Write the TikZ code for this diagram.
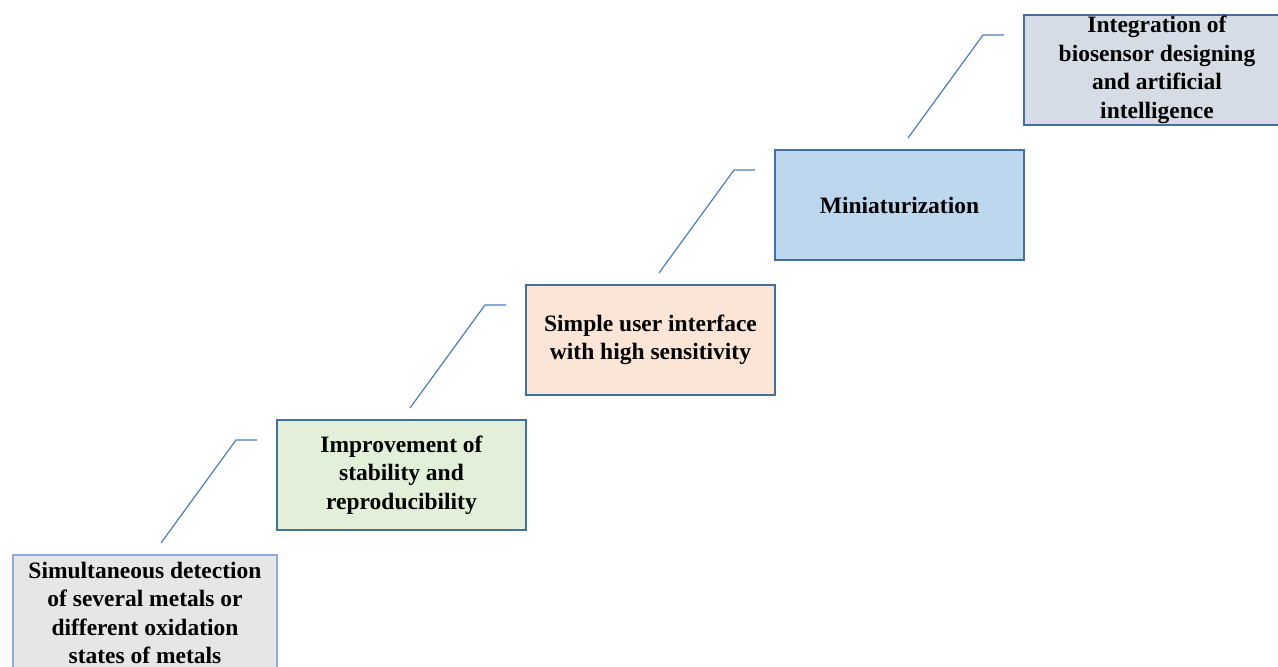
\documentclass[tikz,border=0pt]{standalone}
\usepackage{fontspec}
\setmainfont{Liberation Serif}
\usetikzlibrary{positioning}
\definecolor{boxline}{HTML}{41719C}
\definecolor{paleline}{HTML}{8FAADC}
\definecolor{leadline}{HTML}{4A7EBB}
\definecolor{fillgray}{HTML}{E7E6E6}
\definecolor{fillgreen}{HTML}{E2F0D9}
\definecolor{fillpeach}{HTML}{FBE5D6}
\definecolor{fillblue}{HTML}{BDD7EE}
\definecolor{fillslate}{HTML}{D6DCE5}
\tikzset{
  stagebox/.style={draw=boxline, line width=1.3pt, minimum width=249pt, minimum height=110pt,
    inner sep=0pt, outer sep=0pt, align=center, font=\bfseries\fontsize{23.5}{28.5}\selectfont},
  leader/.style={draw=leadline, line width=1.2pt},
}

\begin{document}
\begin{tikzpicture}[x=1pt, y=-1pt]
    \useasboundingbox (0,0) rectangle (1278,667);
    % the stairs, bottom left to top right
    \node[stagebox, fill=fillgray, draw=paleline, minimum width=264pt, minimum height=116pt] (detect) at (145,613)
      {Simultaneous detection\\of several metals or\\different oxidation\\states of metals};
    \node[stagebox, fill=fillgreen, anchor=south west, above right=25pt and 0pt of detect.north east] (stable)
      {Improvement of\\stability and\\reproducibility};
    \node[stagebox, fill=fillpeach, anchor=south west, above right=25pt and 0pt of stable.north east] (simple)
      {Simple user interface\\with high sensitivity};
    \node[stagebox, fill=fillblue, anchor=south west, above right=25pt and 0pt of simple.north east] (mini)
      {Miniaturization};
    \node[stagebox, fill=fillslate, minimum width=266pt, anchor=south west, above right=25pt and 0pt of mini.north east] (integ)
      {Integration of\\biosensor designing\\and artificial\\intelligence};
    % leader lines
    \foreach \hi in {stable, simple, mini, integ} {
      \draw[leader] ([xshift=-116pt, yshift=-68pt]\hi.west) -- ++(75,-103) -- ++(21,0);
    }
\end{tikzpicture}
\end{document}
